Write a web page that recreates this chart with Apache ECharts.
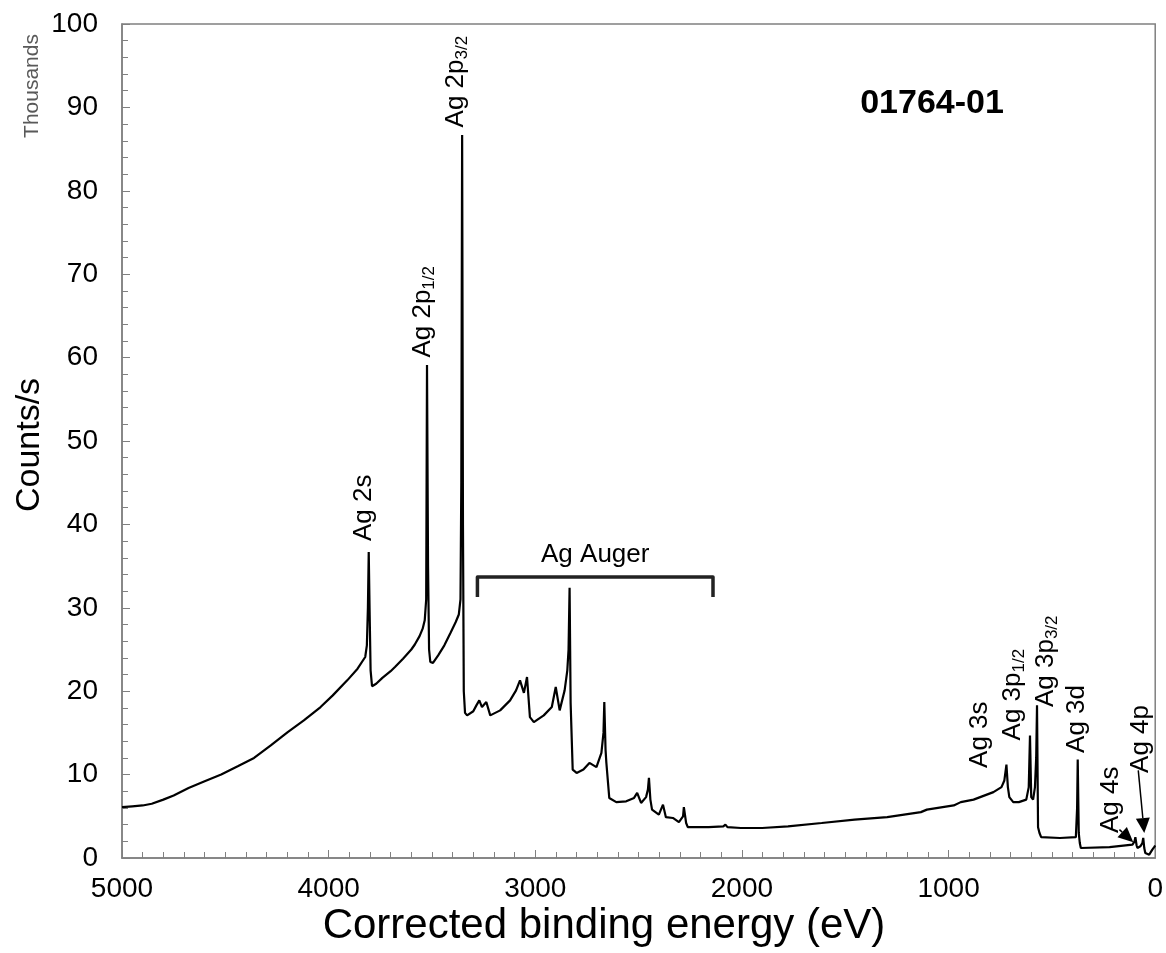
<!DOCTYPE html>
<html>
<head>
<meta charset="utf-8">
<script src="https://cdn.jsdelivr.net/npm/echarts@6/dist/echarts.min.js"></script>
<style>
  html, body { margin: 0; padding: 0; background: #fff; }
  #chart { width: 1166px; height: 953px; }
</style>
</head>
<body>
<div id="chart"></div>
<script>
// binding energy (eV)
var energy = [
  5000, 4950, 4900, 4856, 4800, 4750, 4678, 4600, 4520, 4440,
  4361, 4280, 4198, 4120, 4039, 3980, 3910, 3860, 3823, 3815,
  3810, 3806, 3802, 3797, 3790, 3770, 3740, 3700, 3679, 3640,
  3600, 3583, 3560, 3545, 3535, 3528, 3524, 3519, 3514, 3508,
  3495, 3470, 3440, 3410, 3385, 3370, 3362, 3358, 3354, 3350,
  3346, 3340, 3330, 3300, 3285, 3271, 3258, 3237, 3218, 3170,
  3122, 3093, 3074, 3055, 3040, 3026, 3007, 2959, 2920, 2901,
  2882, 2858, 2845, 2839, 2834, 2829, 2819, 2800, 2767, 2738,
  2704, 2680, 2670, 2666, 2660, 2656, 2642, 2608, 2560, 2522,
  2507, 2488, 2464, 2455, 2450, 2443, 2435, 2402, 2382, 2368,
  2334, 2305, 2285, 2281, 2270, 2262, 2161, 2090, 2080, 2070,
  2005, 1998, 1990, 1902, 1777, 1614, 1455, 1297, 1134, 1105,
  975, 941, 879, 783, 744, 730, 720, 713, 706, 687,
  660, 624, 612, 606, 600, 591, 582, 576, 572, 567,
  560, 552, 461, 384, 378, 375, 370, 365, 360, 221,
  110, 100, 96, 90, 86, 72, 62, 58, 53, 48,
  29, 14, 5, 0
];
// counts/s in thousands
var counts = [
  6.1, 6.2, 6.3, 6.5, 7.0, 7.5, 8.4, 9.2, 10.0, 11.0,
  12.0, 13.5, 15.1, 16.5, 18.1, 19.5, 21.3, 22.7, 24.1, 25.5,
  30.0, 36.7, 30.0, 22.5, 20.6, 20.9, 21.6, 22.4, 22.9, 23.9,
  25.0, 25.6, 26.6, 27.5, 28.5, 31.0, 59.1, 35.0, 25.0, 23.5,
  23.4, 24.3, 25.5, 27.0, 28.3, 29.2, 31.0, 45.0, 86.7, 40.0,
  20.0, 17.4, 17.1, 17.6, 18.3, 18.9, 18.1, 18.7, 17.1, 17.7,
  18.9, 20.1, 21.3, 19.8, 21.7, 16.9, 16.3, 17.1, 18.1, 20.5,
  17.7, 20.1, 22.5, 25.0, 32.4, 18.6, 10.6, 10.2, 10.6, 11.4,
  10.9, 12.6, 15.0, 18.7, 13.0, 11.4, 7.2, 6.7, 6.8, 7.2,
  7.8, 6.6, 7.3, 8.2, 9.6, 7.0, 5.8, 5.2, 6.4, 4.9,
  4.8, 4.3, 5.0, 6.1, 4.2, 3.7, 3.7, 3.8, 4.0, 3.7,
  3.6, 3.8, 3.6, 3.6, 3.8, 4.2, 4.6, 4.9, 5.5, 5.8,
  6.3, 6.7, 7.0, 7.9, 8.5, 9.3, 11.2, 8.5, 7.3, 6.7,
  6.7, 7.0, 8.5, 14.7, 7.3, 7.0, 8.5, 12.0, 18.3, 3.7,
  3.0, 2.5, 2.4, 2.5, 6.0, 11.8, 3.0, 1.8, 1.2, 1.3,
  1.6, 2.0, 2.5, 1.5, 1.2, 1.4, 1.8, 2.4, 1.2, 0.6,
  0.4, 1.0, 1.3, 1.5
];

var xTicks = [5000, 4000, 3000, 2000, 1000, 0];
var yTicks = [0, 10, 20, 30, 40, 50, 60, 70, 80, 90, 100];

var FONT = '"Liberation Sans", Arial, sans-serif';

// peak labels: start of the rotated text, given in eV / thousands
var peakNotes = [
  { main: 'Ag 2s',  sub: '',    at: [3828, 38.0] },
  { main: 'Ag 2p',  sub: '1/2', at: [3545, 60.0] },
  { main: 'Ag 2p',  sub: '3/2', at: [3386, 87.6] },
  { main: 'Ag 3s',  sub: '',    at: [850, 10.8] },
  { main: 'Ag 3p',  sub: '1/2', at: [690, 14.1] },
  { main: 'Ag 3p',  sub: '3/2', at: [530, 18.1] },
  { main: 'Ag 3d',  sub: '',    at: [379, 12.6] },
  { main: 'Ag 4s',  sub: '',    at: [216, 3.0] },
  { main: 'Ag 4p',  sub: '',    at: [72, 10.2] }
];

var chart = echarts.init(document.getElementById('chart'));

var lineData = energy.map(function (e, i) { return [e, counts[i]]; });

chart.setOption({
  animation: false,
  backgroundColor: '#fff',
  grid: {
    left: 122, right: 3, top: 24, bottom: 95,
    show: true, borderColor: '#808080', borderWidth: 1.5
  },
  xAxis: {
    type: 'value', min: 0, max: 5000, interval: 1000, inverse: true,
    axisLine: { onZero: false, lineStyle: { color: '#808080', width: 1.5 } },
    axisTick: { inside: true, length: 8, lineStyle: { color: '#808080' } },
    minorTick: { show: true, splitNumber: 10, length: 6, lineStyle: { color: '#808080' } },
    splitLine: { show: false },
    axisLabel: {
      fontSize: 28, color: '#000', fontFamily: FONT, margin: 17,
      formatter: function (v) { return xTicks.indexOf(v) >= 0 ? String(v) : ''; }
    }
  },
  yAxis: {
    type: 'value', min: 0, max: 100, interval: 10,
    axisLine: { onZero: false, lineStyle: { color: '#808080', width: 1.5 } },
    axisTick: { inside: true, length: 8, lineStyle: { color: '#808080' } },
    minorTick: { show: true, splitNumber: 5, length: 6, lineStyle: { color: '#808080' } },
    splitLine: { show: false },
    axisLabel: {
      fontSize: 28, color: '#000', fontFamily: FONT, margin: 24,
      formatter: function (v) { return yTicks.indexOf(v) >= 0 ? String(v) : ''; }
    }
  },
  series: [{
    type: 'line',
    data: lineData,
    showSymbol: false,
    lineStyle: { color: '#000', width: 2.2 },
    silent: true
  }]
});

function px(p) { return chart.convertToPixel({ gridIndex: 0 }, p); }

var graphics = [];

// axis titles and sample id
graphics.push({
  type: 'text', x: 30, y: 445, rotation: Math.PI / 2,
  style: { text: 'Counts/s', fontSize: 34, fontFamily: FONT, fill: '#000', align: 'center', verticalAlign: 'middle' }
});
graphics.push({
  type: 'text', x: 32, y: 86, rotation: Math.PI / 2,
  style: { text: 'Thousands', fontSize: 21, fontFamily: FONT, fill: '#595959', align: 'center', verticalAlign: 'middle' }
});
graphics.push({
  type: 'text', x: 604, y: 926,
  style: { text: 'Corrected binding energy (eV)', fontSize: 42, fontFamily: FONT, fill: '#000', align: 'center', verticalAlign: 'middle' }
});
graphics.push({
  type: 'text', x: 932, y: 104,
  style: { text: '01764-01', fontSize: 34, fontWeight: 'bold', fontFamily: FONT, fill: '#000', align: 'center', verticalAlign: 'middle' }
});

// rotated peak labels
peakNotes.forEach(function (n) {
  var p = px(n.at);
  var txt = n.sub ? '{m|' + n.main + '}{s|' + n.sub + '}' : '{m|' + n.main + '}';
  graphics.push({
    type: 'text', x: p[0], y: p[1], rotation: Math.PI / 2,
    style: {
      text: txt, align: 'left', verticalAlign: 'middle', fill: '#000',
      rich: {
        m: { fontSize: 26, fontFamily: FONT, fill: '#000', lineHeight: 30 },
        s: { fontSize: 17, fontFamily: FONT, fill: '#000', lineHeight: 18, verticalAlign: 'bottom' }
      }
    }
  });
});

// Auger bracket
var b1 = px([3280, 31.3]), b2 = px([3280, 33.7]), b3 = px([2140, 33.7]), b4 = px([2140, 31.3]);
graphics.push({
  type: 'polyline',
  shape: { points: [b1, b2, b3, b4] },
  style: { stroke: '#222', lineWidth: 3.5, fill: null, lineJoin: 'round' }
});
var ac = px([2710, 36.3]);
graphics.push({
  type: 'text', x: ac[0], y: ac[1],
  style: { text: 'Ag Auger', fontSize: 26, fontFamily: FONT, fill: '#000', align: 'center', verticalAlign: 'middle' }
});

// arrows for 4s and 4p
function arrow(from, to) {
  var a = px(from), b = px(to);
  var dx = b[0] - a[0], dy = b[1] - a[1];
  var len = Math.sqrt(dx * dx + dy * dy);
  var ux = dx / len, uy = dy / len;
  var hl = 15, hw = 7;
  var base = [b[0] - ux * hl, b[1] - uy * hl];
  graphics.push({
    type: 'line',
    shape: { x1: a[0], y1: a[1], x2: base[0], y2: base[1] },
    style: { stroke: '#000', lineWidth: 1.5 }
  });
  graphics.push({
    type: 'polygon',
    shape: { points: [b, [base[0] - uy * hw, base[1] + ux * hw], [base[0] + uy * hw, base[1] - ux * hw]] },
    style: { fill: '#000' }
  });
}
arrow([173, 3.4], [106, 1.9]);
arrow([82, 10.5], [53, 3.0]);

chart.setOption({ graphic: graphics });
</script>
</body>
</html>
